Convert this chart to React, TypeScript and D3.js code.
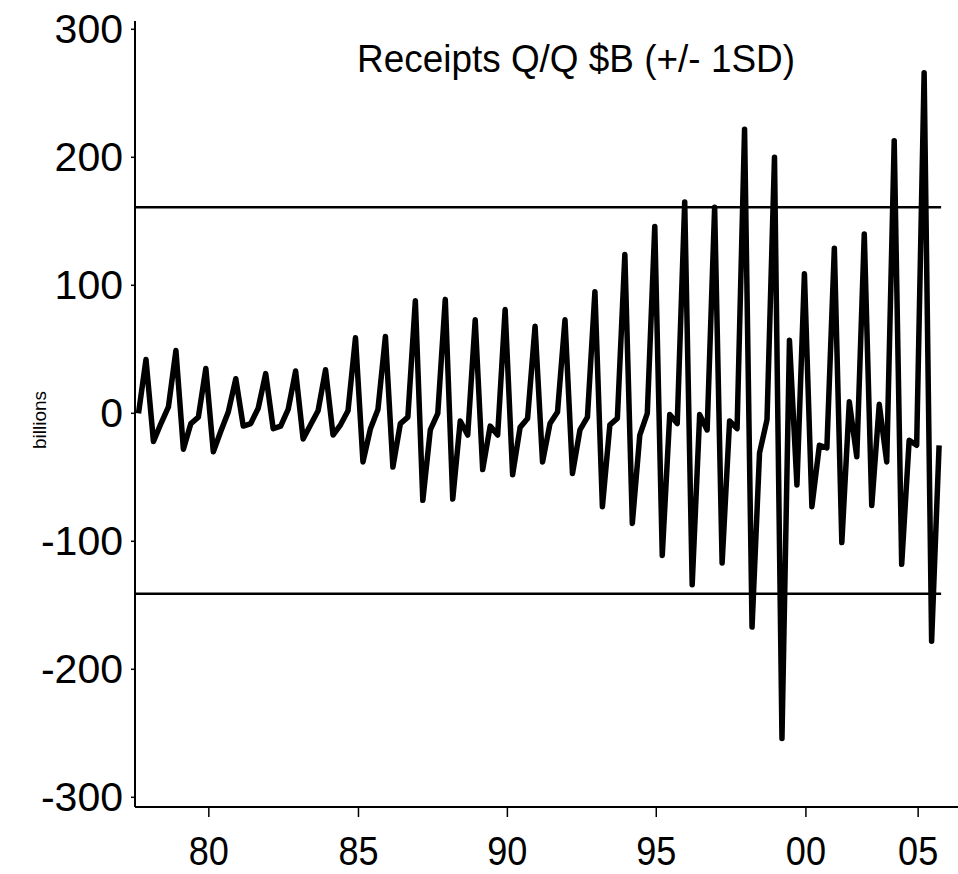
import React from "react";
import * as d3 from "d3";

// Quarterly change in receipts, $B (one value per quarter, in order)
const receipts: number[] = [
  0, 42, -22, -8, 5, 49, -28, -8, -3, 35,
  -30, -14, 1, 27, -10, -8, 4, 31, -12, -10,
  3, 33, -20, -9, 2, 34, -17, -9, 2, 59,
  -38, -12, 3, 60, -42, -8, -3, 88, -68, -13,
  0, 89, -67, -6, -17, 73, -44, -10, -17, 81,
  -48, -11, -4, 68, -38, -8, 1, 73, -47, -13,
  -3, 95, -73, -9, -4, 124, -86, -17, 0, 146,
  -111, -1, -8, 165, -134, -1, -13, 161, -117, -6,
  -12, 222, -167, -31, -5, 200, -254, 57, -56, 109,
  -73, -25, -27, 129, -101, 9, -34, 140, -72, 7,
  -38, 213, -118, -21, -25, 266, -178, -25,
];

// +/- 1 standard deviation reference levels
const sdLevels: number[] = [161, -141];

const yTickValues: number[] = [-300, -200, -100, 0, 100, 200, 300];
// x tick positions expressed in quarter-index units
const xTickIndex: number[] = [9.4, 29.4, 49.3, 69.2, 89.2, 104.2];
const xTickLabels: string[] = ["80", "85", "90", "95", "00", "05"];

const title = "Receipts Q/Q $B (+/- 1SD)";
const yLabel = "billions";

export default function App() {
  const W = 958;
  const H = 874;
  const axisX = 135;
  const axisY = 807;
  const axisTop = 21;

  const x = d3.scaleLinear().domain([0, receipts.length - 1]).range([138.5, 939.1]);
  const y = d3.scaleLinear().domain([-300, 300]).range([797.3, 29.3]);

  const line = d3
    .line<number>()
    .x((_, i) => x(i))
    .y((d) => y(d));

  const font = "'Liberation Sans', Arial, Helvetica, sans-serif";

  return (
    <svg
      width={W}
      height={H}
      viewBox={`0 0 ${W} ${H}`}
      style={{ position: "absolute", left: 0, top: 0, background: "#fff" }}
    >
      <rect x={0} y={0} width={W} height={H} fill="#fff" />

      {/* SD lines */}
      {sdLevels.map((v, k) => (
        <line
          key={k}
          x1={axisX}
          x2={x(receipts.length - 1) + 2}
          y1={y(v)}
          y2={y(v)}
          stroke="#000"
          strokeWidth={2.5}
        />
      ))}

      {/* data line */}
      <path
        d={line(receipts) || ""}
        fill="none"
        stroke="#000"
        strokeWidth={5.5}
        strokeLinejoin="round"
        strokeLinecap="butt"
      />

      {/* y axis */}
      <line x1={axisX} x2={axisX} y1={axisTop} y2={axisY} stroke="#000" strokeWidth={2} />
      {yTickValues.map((v) => (
        <g key={v}>
          <line x1={axisX - 4} x2={axisX} y1={y(v)} y2={y(v)} stroke="#000" strokeWidth={1.5} />
          <text
            x={123}
            y={y(v)}
            textAnchor="end"
            dominantBaseline="central"
            fontFamily={font}
            fontSize={41}
            fill="#000"
          >
            {v}
          </text>
        </g>
      ))}

      {/* x axis */}
      <line x1={axisX} x2={W} y1={axisY} y2={axisY} stroke="#000" strokeWidth={2} />
      {xTickIndex.map((t, k) => (
        <g key={k}>
          <line x1={x(t)} x2={x(t)} y1={axisY} y2={axisY + 10} stroke="#000" strokeWidth={1.5} />
          <text
            x={x(t)}
            y={865}
            textAnchor="middle"
            fontFamily={font}
            fontSize={41}
            fill="#000"
            transform={`translate(${x(t)},0) scale(0.88,1) translate(${-x(t)},0)`}
          >
            {xTickLabels[k]}
          </text>
        </g>
      ))}

      {/* title */}
      <text
        x={576}
        y={72}
        textAnchor="middle"
        fontFamily={font}
        fontSize={39}
        textLength={438}
        lengthAdjust="spacingAndGlyphs"
        fill="#000"
      >
        {title}
      </text>

      {/* y axis label */}
      <text
        transform={`translate(46,420) rotate(-90)`}
        textAnchor="middle"
        fontFamily={font}
        fontSize={19}
        fill="#000"
      >
        {yLabel}
      </text>
    </svg>
  );
}
